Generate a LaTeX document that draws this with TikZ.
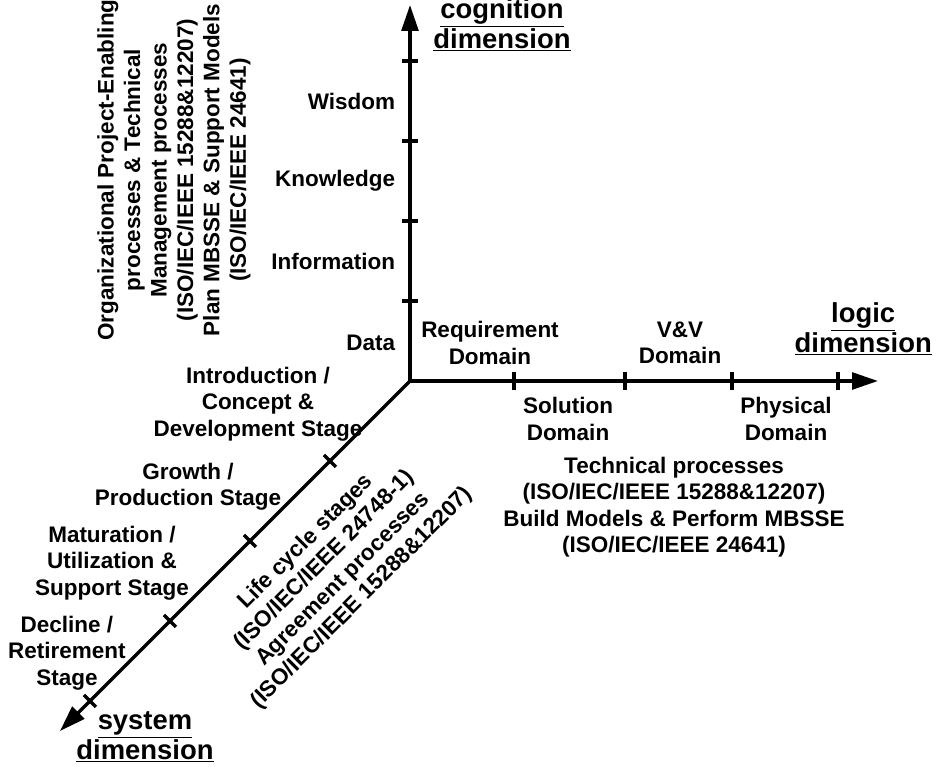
\documentclass[tikz,border=0pt]{standalone}
\usepackage{fontspec}
\setmainfont{Liberation Sans}
\usetikzlibrary{arrows.meta}

\begin{document}
\begin{tikzpicture}[font=\fontsize{16}{18.8}\selectfont\bfseries,
        axis/.style={-{Triangle[length=6.5mm,width=4.2mm]}, line width=2.4pt},
        tick/.style={line width=2.4pt},
        dimname/.style={align=center, font=\fontsize{19.5}{21.5}\selectfont\bfseries}]
        \useasboundingbox (-10.25,-9.65) rectangle (13.25,9.525);

        \coordinate (O) at (0,0);
        \coordinate (cogtip) at (0,9.4);
        \coordinate (logtip) at (11.7,0);
        \coordinate (systip) at (-8.75,-8.75);

        \draw[axis](O)--(cogtip);
        \draw[axis](O)--(logtip);
        \draw[axis](O)--(systip);

        \foreach \y in {2,4,6,8} \draw[tick](-0.2,\y)--(0.2,\y);
        \foreach \x in {2.6,5.375,8.05,10.7} \draw[tick](\x,-0.22)--(\x,0.22);
        \foreach \d in {2,4,6,8} \draw[tick](-\d-0.15,-\d+0.15)--(-\d+0.15,-\d-0.15);

        % cognition dimension
        \node[dimname] (cogname) at (2.3,8.9) {\underline{cognition}\\\underline{dimension}};
        \node[anchor=east] (wisdom) at (-0.25,7) {Wisdom};
        \node[anchor=east] (knowledge) at (-0.25,5) {Knowledge};
        \node[anchor=east] (information) at (-0.25,3) {Information};
        \node[anchor=east] (data) at (-0.25,0.95) {Data};
        \node[rotate=90, align=center] (orgproc) at (-5.9,5.275) {Organizational Project-Enabling\\processes \& Technical\\Management processes\\(ISO/IEC/IEEE 15288\&12207)\\Plan MBSSE \& Support Models\\(ISO/IEC/IEEE 24641)};

        % logic dimension
        \node[dimname] (logname) at (11.33,1.3) {\underline{logic}\\\underline{dimension}};
        \node[align=center] (reqdom) at (2,0.95) {Requirement\\Domain};
        \node[align=center] (vvdom) at (6.75,0.95) {V\&V\\Domain};
        \node[align=center] (soldom) at (3.95,-0.95) {Solution\\Domain};
        \node[align=center] (phydom) at (9.4,-0.95) {Physical\\Domain};
        \node[align=center] (techproc) at (6.6,-3.15) {Technical processes\\(ISO/IEC/IEEE 15288\&12207)\\Build Models \& Perform MBSSE\\(ISO/IEC/IEEE 24641)};

        % system dimension
        \node[dimname] (sysname) at (-6.625,-8.9) {\underline{system}\\\underline{dimension}};
        \node[align=center] (intro) at (-3.8,-0.575) {Introduction /\\Concept \&\\Development Stage};
        \node[align=center] (growth) at (-5.55,-2.65) {Growth /\\Production Stage};
        \node[align=center] (matur) at (-7.45,-4.55) {Maturation /\\Utilization \&\\Support Stage};
        \node[align=center] (decline) at (-8.575,-6.8) {Decline /\\Retirement\\Stage};
        \node[rotate=45, align=center] (lifecycle) at (-1.9,-4.725) {Life cycle stages\\(ISO/IEC/IEEE 24748-1)\\Agreement processes\\(ISO/IEC/IEEE 15288\&12207)};
\end{tikzpicture}
\end{document}
